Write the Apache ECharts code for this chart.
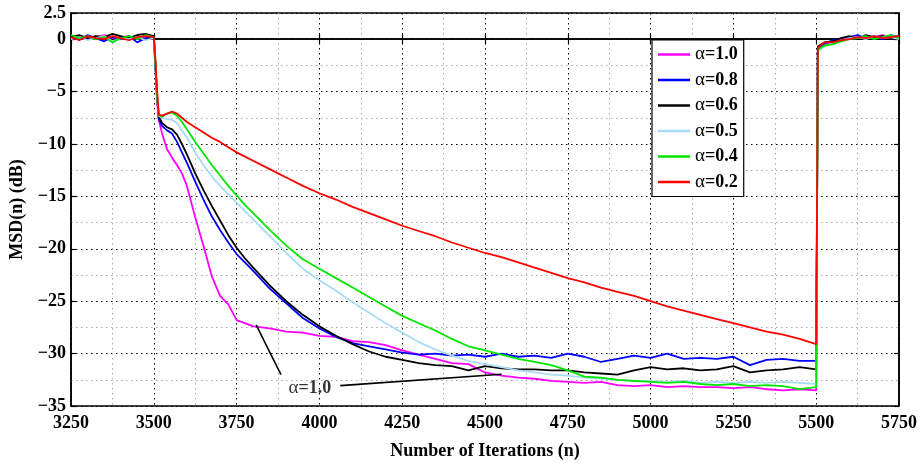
<!DOCTYPE html>
<html>
<head>
<meta charset="utf-8">
<script src="https://cdn.jsdelivr.net/npm/echarts@6/dist/echarts.min.js"></script>
<style>
html,body{margin:0;padding:0;background:#fff;}
#chart{width:921px;height:465px;}
</style>
</head>
<body>
<div id="chart"></div>
<script>
// ---- data ----
const iterations = [3250,3275,3300,3325,3350,3375,3400,3425,3450,3475,3500,
  3505,3510,
  3515,3525,3540,3555,3570,3585,3600,3625,3650,3675,3700,3725,3750,3775,3800,
  3850,3900,3950,4000,4050,4100,4150,4200,4250,4300,4350,4400,4450,4500,4550,4600,4650,4700,4750,4800,
  4850,4900,4950,5000,5050,5100,5150,5200,5250,5300,5350,5400,5450,5500,
  5505,5525,5550,5575,5600,5625,5650,5675,5700,5725,5750];

const msdAlpha10 = [0.1,0.3,0.0,0.2,0.4,0.1,0.2,0.3,0.0,0.3,0.2,
  -3.0,-6.0,
  -7.7,-9.0,-10.5,-11.3,-12.0,-12.8,-14.0,-17.0,-19.7,-22.6,-24.5,-25.3,-26.8,-27.1,-27.4,
  -27.6,-27.9,-28.0,-28.3,-28.4,-28.8,-28.9,-29.2,-29.7,-30.1,-30.5,-30.9,-31.0,-31.8,-32.1,-32.3,-32.4,-32.6,-32.7,-32.8,
  -32.7,-33.0,-33.1,-33.0,-33.2,-33.1,-33.2,-33.2,-33.3,-33.2,-33.4,-33.5,-33.4,-33.5,
  -0.9,-0.5,-0.2,0.1,0.0,0.3,0.1,0.2,0.4,0.1,0.3];

const msdAlpha08 = [0.3,0.0,0.4,0.1,-0.2,0.2,0.0,0.3,-0.3,0.1,0.3,
  -2.5,-5.5,
  -7.6,-8.3,-8.7,-9.0,-9.8,-10.8,-11.8,-13.6,-15.3,-16.9,-18.2,-19.4,-20.5,-21.3,-22.1,
  -23.8,-25.2,-26.6,-27.6,-28.4,-29.0,-29.3,-29.6,-29.9,-30.1,-30.0,-30.2,-30.1,-30.3,-30.0,-30.3,-30.2,-30.4,-30.0,-30.3,
  -30.8,-30.5,-30.2,-30.4,-30.0,-30.5,-30.4,-30.5,-30.3,-31.1,-30.6,-30.5,-30.7,-30.7,
  -0.8,-0.4,-0.1,0.0,0.2,0.4,0.1,0.3,0.0,0.4,0.2];

const msdAlpha06 = [0.2,0.4,0.1,0.3,0.2,0.5,0.3,0.1,0.4,0.5,0.3,
  -2.5,-5.5,
  -7.4,-8.0,-8.4,-8.6,-9.1,-10.0,-11.0,-12.8,-14.4,-15.9,-17.3,-18.7,-19.9,-20.9,-21.8,
  -23.5,-25.0,-26.3,-27.4,-28.3,-29.1,-29.8,-30.3,-30.6,-30.9,-31.1,-31.2,-31.6,-31.2,-31.4,-31.5,-31.5,-31.6,-31.6,-31.8,
  -31.9,-32.0,-31.6,-31.3,-31.5,-31.4,-31.6,-31.5,-31.2,-31.8,-31.6,-31.5,-31.3,-31.5,
  -0.7,-0.3,-0.2,0.1,0.3,0.0,0.4,0.2,0.3,0.1,0.3];

const msdAlpha05 = [0.0,0.2,-0.1,0.1,0.3,-0.2,0.1,0.0,0.2,-0.1,0.1,
  -2.5,-5.5,
  -7.3,-7.5,-7.6,-7.7,-8.0,-8.7,-9.4,-10.8,-12.0,-13.1,-14.0,-14.8,-15.6,-16.4,-17.2,
  -18.8,-20.4,-21.9,-23.0,-24.0,-25.1,-26.1,-27.1,-28.0,-28.9,-29.6,-30.2,-30.7,-31.0,-31.3,-31.6,-31.8,-32.0,-32.1,-32.3,
  -32.4,-32.5,-32.6,-32.6,-32.7,-32.6,-32.8,-32.7,-32.8,-32.7,-32.8,-32.7,-32.8,-32.9,
  -1.2,-0.7,-0.4,-0.1,0.1,0.2,0.0,0.3,0.1,0.2,0.0];

const msdAlpha04 = [0.4,0.1,0.3,0.0,0.2,-0.3,0.1,0.3,0.0,0.4,0.2,
  -2.5,-5.5,
  -7.2,-7.4,-7.1,-7.0,-7.3,-7.9,-8.6,-9.8,-10.9,-12.0,-13.0,-14.0,-14.9,-15.8,-16.6,
  -18.2,-19.7,-21.0,-21.9,-22.8,-23.7,-24.6,-25.5,-26.4,-27.1,-27.8,-28.6,-29.3,-29.7,-30.1,-30.5,-30.8,-31.1,-31.6,-32.2,
  -32.3,-32.5,-32.6,-32.7,-32.8,-32.7,-32.9,-33.0,-32.9,-33.1,-33.0,-33.1,-33.4,-33.2,
  -1.0,-0.6,-0.5,-0.2,0.0,0.1,0.3,0.0,0.2,0.4,0.1];

const msdAlpha02 = [0.2,-0.1,0.3,0.1,0.0,0.3,0.1,-0.1,0.2,0.3,0.2,
  -2.0,-5.0,
  -7.2,-7.3,-7.1,-6.9,-7.1,-7.5,-7.9,-8.4,-8.9,-9.4,-9.8,-10.3,-10.8,-11.2,-11.6,
  -12.4,-13.2,-14.0,-14.7,-15.3,-16.0,-16.6,-17.2,-17.8,-18.3,-18.8,-19.4,-19.9,-20.4,-20.8,-21.3,-21.8,-22.3,-22.8,-23.2,
  -23.7,-24.1,-24.5,-25.0,-25.5,-25.9,-26.3,-26.7,-27.1,-27.5,-27.9,-28.2,-28.6,-29.1,
  -0.8,-0.3,-0.3,-0.1,0.0,0.2,0.1,0.3,0.1,0.2,0.3];

const seriesNames = ['α=1.0','α=0.8','α=0.6','α=0.5','α=0.4','α=0.2'];
const seriesValues = [msdAlpha10,msdAlpha08,msdAlpha06,msdAlpha05,msdAlpha04,msdAlpha02];

// annotation: arrows [fromX, fromY, toX, toY] and label position
const annotationArrows = [[3884,-32.0,3809,-27.25],[4063,-33.06,4550,-31.97]];
const annotationLabelPos = [3971,-33.3];
const annotationText = 'α=1.0';

// ---- styles ----
const colors = ['#ff00ff','#0000ff','#000000','#a8dcf5','#00e600','#ff0000'];
const FONT = 'Liberation Serif';

const chart = echarts.init(document.getElementById('chart'), null, {renderer:'canvas'});

function minusFmt(v){
  if (v < 0) return '\u2212' + Math.abs(v);
  return String(v);
}

const series = seriesValues.map((vals, i) => ({
  name: seriesNames[i],
  type: 'line',
  data: iterations.map((x, k) => [x, vals[k]]),
  symbol: 'none',
  showSymbol: false,
  lineStyle: {color: colors[i], width: 1.8},
  itemStyle: {color: colors[i]},
  z: 3 + i,
  silent: true
}));

series.push({
  name: 'annotation',
  type: 'scatter',
  data: [annotationLabelPos],
  symbolSize: 1,
  itemStyle: {color: 'rgba(0,0,0,0)'},
  z: 20,
  label: {
    show: true,
    position: 'inside',
    formatter: () => '{g|α}{b|' + annotationText.slice(1) + '}',
    rich: {
      g: {fontFamily: FONT, fontSize: 19, color: '#000'},
      b: {fontFamily: FONT, fontSize: 18, fontWeight: 'bold', color: '#000'}
    }
  },
  markLine: {
    silent: true,
    symbol: ['none', 'arrow'],
    symbolSize: [0, 11],
    lineStyle: {color: '#000', width: 1.6, type: 'solid'},
    label: {show: false},
    data: annotationArrows.map(a => [{coord: [a[0], a[1]]}, {coord: [a[2], a[3]]}])
  }
});

const majorGrid = {show: true, lineStyle: {color: '#000', width: 1, type: [1.5, 3.5]}};
const minorGrid = {show: true, lineStyle: {color: '#aaaaaa', width: 1, type: [1.5, 3.5]}};

const option = {
  animation: false,
  backgroundColor: '#fff',
  grid: {left: 65, right: 22, top: 13, bottom: 57, show: true, borderColor: '#000', borderWidth: 1.5, backgroundColor: 'transparent'},
  legend: {
    data: seriesNames,
    orient: 'vertical',
    left: 652,
    top: 40,
    icon: 'rect',
    itemWidth: 32,
    itemHeight: 2.5,
    itemGap: 6.5,
    padding: [5, 6, 5, 6],
    backgroundColor: '#fff',
    borderColor: '#000',
    borderWidth: 1.2,
    z: 30,
    formatter: name => '{g|α}{b|' + name.slice(1) + '}',
    textStyle: {
      color: '#000',
      rich: {
        g: {fontFamily: FONT, fontSize: 19, color: '#000'},
        b: {fontFamily: FONT, fontSize: 18, fontWeight: 'bold', color: '#000'}
      }
    }
  },
  xAxis: [{
    type: 'value', min: 3250, max: 5750, interval: 250,
    name: 'Number of Iterations (n)', nameLocation: 'middle', nameGap: 36,
    nameTextStyle: {fontFamily: FONT, fontSize: 18, fontWeight: 'bold', color: '#000'},
    axisLine: {show: true, lineStyle: {color: '#000', width: 1.5}},
    axisTick: {show: true, inside: true, length: 5, lineStyle: {color: '#000', width: 1.2}},
    axisLabel: {fontFamily: FONT, fontSize: 18, fontWeight: 'bold', color: '#000', margin: 8, formatter: v => String(v)},
    splitLine: majorGrid,
    minorTick: {show: false, splitNumber: 2},
    minorSplitLine: minorGrid
  }, {
    type: 'value', min: 3250, max: 5750, interval: 250, position: 'top',
    axisLine: {show: true, lineStyle: {color: '#000', width: 1.5}},
    axisTick: {show: true, inside: true, length: 5, lineStyle: {color: '#000', width: 1.2}},
    axisLabel: {show: false},
    splitLine: {show: false}
  }],
  yAxis: [{
    type: 'value', min: -35, max: 2.5, interval: 5,
    name: 'MSD(n) (dB)', nameLocation: 'middle', nameGap: 45,
    nameTextStyle: {fontFamily: FONT, fontSize: 18, fontWeight: 'bold', color: '#000'},
    axisLine: {show: true, lineStyle: {color: '#000', width: 1.5}},
    axisTick: {show: true, inside: true, length: 5, lineStyle: {color: '#000', width: 1.2}},
    axisLabel: {fontFamily: FONT, fontSize: 18, fontWeight: 'bold', color: '#000', margin: 5, formatter: minusFmt},
    splitLine: majorGrid,
    minorTick: {show: false, splitNumber: 2},
    minorSplitLine: minorGrid
  }, {
    type: 'value', min: -35, max: 2.5, interval: 5, position: 'right',
    axisLine: {show: true, lineStyle: {color: '#000', width: 1.5}},
    axisTick: {show: true, inside: true, length: 5, lineStyle: {color: '#000', width: 1.2}},
    axisLabel: {show: false},
    splitLine: {show: false}
  }],
  series: series
};

chart.setOption(option);
</script>
</body>
</html>
